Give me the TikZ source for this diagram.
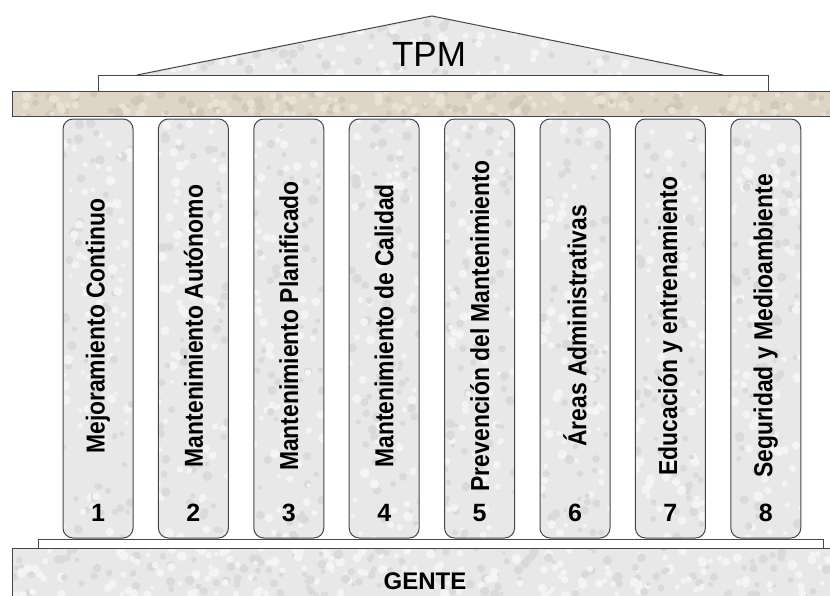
\documentclass[tikz,border=0pt]{standalone}
\usepackage{fontspec}
\setmainfont{Liberation Sans}
\definecolor{granite}{RGB}{232,232,232}
\definecolor{granitelt}{RGB}{244,244,244}
\definecolor{granitedk}{RGB}{218,218,218}
\definecolor{sandst}{RGB}{222,213,199}
\definecolor{sandstlt}{RGB}{232,225,214}
\definecolor{sandstdk}{RGB}{210,200,186}
\definecolor{edge}{RGB}{70,70,70}
\tikzset{
  pillar/.style={draw=edge, line width=1pt, rounded corners=10pt,
    minimum width=70pt, minimum height=419pt, inner sep=0pt},
  pillartext/.style={rotate=90, font=\bfseries\fontsize{26}{30}\selectfont, inner sep=0pt},
  pillarnum/.style={font=\bfseries\fontsize{25}{29}\selectfont, inner sep=0pt},
  slab/.style={draw=edge, line width=1pt},
}
% random speckles inside a rectangle: x1 y1 x2 y2 count light dark
\newcommand\grainfill[7]{%
  \foreach \k in {1,...,#5}{%
    \pgfmathsetmacro{\sx}{(#1)+rnd*((#3)-(#1))}%
    \pgfmathsetmacro{\sy}{(#2)+rnd*((#4)-(#2))}%
    \pgfmathsetmacro{\sr}{2+rnd*3}%
    \pgfmathtruncatemacro{\sg}{rnd*100}%
    \ifnum\sg<55
      \fill[#6] (\sx,\sy) circle (\sr);
    \else
      \fill[#7] (\sx,\sy) circle (\sr);
    \fi
  }}
\begin{document}
\begin{tikzpicture}[x=1pt,y=-1pt]
\pgfmathsetseed{7}
\useasboundingbox (0,0) rectangle (830,595);
% roof
\coordinate (rl) at (137,75);
\coordinate (rt) at (432,16);
\coordinate (rr) at (723,75);
\begin{scope}
  \clip (rl) -- (rt) -- (rr) -- cycle;
  \fill[granite] (137,16) rectangle (723,75);
  \grainfill{137}{16}{723}{75}{160}{granitelt}{granitedk}
\end{scope}
\draw[slab] (rl) -- (rt) -- (rr);
\node[font=\fontsize{35}{40}\selectfont, inner sep=0pt] (tpm) at (429,54) {TPM};
% white strip under roof
\draw[slab, fill=white] (98,91.5) -- (98,75) -- (768,75) -- (768,91.5);
% architrave band
\begin{scope}
  \clip (12,91.5) rectangle (831,116.5);
  \fill[sandst] (12,91.5) rectangle (831,116.5);
  \grainfill{12}{91.5}{831}{116.5}{200}{sandstlt}{sandstdk}
\end{scope}
\draw[slab] (831,91.5) -- (12,91.5) -- (12,116.5) -- (831,116.5);
% step
\draw[slab, fill=white] (38,548) -- (38,539.5) -- (823,539.5) -- (823,548);
% base
\begin{scope}
  \clip (12,548) rectangle (831,596);
  \fill[granite] (12,548) rectangle (831,596);
  \grainfill{12}{548}{831}{596}{320}{granitelt}{granitedk}
\end{scope}
\draw[slab] (12,596) -- (12,548) -- (831,548);
\node[font=\bfseries\fontsize{24}{28}\selectfont, inner sep=0pt] (gente) at (425,581.5) {GENTE};
% pillars
\foreach \i/\t in {1/Mejoramiento Continuo,
                   2/Mantenimiento Autónomo,
                   3/Mantenimiento Planificado,
                   4/Mantenimiento de Calidad,
                   5/Prevención del Mantenimiento,
                   6/Áreas Administrativas,
                   7/Educación y entrenamiento,
                   8/Seguridad y Medioambiente}{
  \pgfmathsetmacro{\cx}{98+95.4*(\i-1)}
  \begin{scope}
    \clip[rounded corners=10pt] (\cx-35,119) rectangle (\cx+35,538);
    \fill[granite] (\cx-35,119) rectangle (\cx+35,538);
    \grainfill{\cx-35}{119}{\cx+35}{538}{140}{granitelt}{granitedk}
  \end{scope}
  \node[pillar] (p\i) at (\cx,328.5) {};
  \node[pillartext] (t\i) at (\cx,326) {\scalebox{0.88}[1]{\t}};
  \node[pillarnum] (n\i) at (\cx,513) {\i};
}
\end{tikzpicture}
\end{document}
